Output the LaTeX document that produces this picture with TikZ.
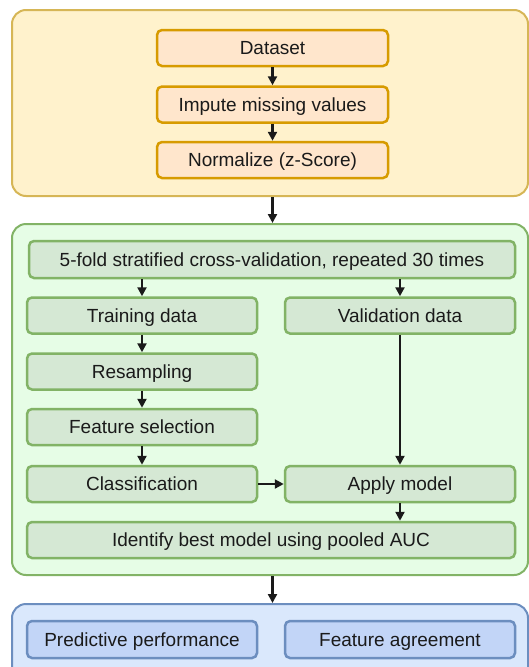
\documentclass[tikz,border=0pt]{standalone}
\usepackage{fontspec}
\setmainfont{Liberation Sans}
\usetikzlibrary{arrows.meta}
\definecolor{prepback}{HTML}{FFF2CC}
\definecolor{prepline}{HTML}{D6B656}
\definecolor{prepfill}{HTML}{FFE6CC}
\definecolor{prepedge}{HTML}{D79B00}
\definecolor{cvback}{HTML}{E6FDE6}
\definecolor{cvline}{HTML}{82B366}
\definecolor{cvfill}{HTML}{D5E8D4}
\definecolor{evalback}{HTML}{DAE8FC}
\definecolor{evalline}{HTML}{6C8EBF}
\definecolor{evalfill}{HTML}{C2D5F7}
\definecolor{ink}{HTML}{1A1A1A}

\begin{document}
\begin{tikzpicture}[x=1pt,y=-1pt,
    frame/.style={draw,line width=2pt,rounded corners=14pt,inner sep=0pt},
    stepbox/.style={draw,line width=2.5pt,rounded corners=5pt,inner sep=0pt,minimum height=36pt,text height=13.6pt,text depth=0pt,font=\fontsize{19}{23}\selectfont,text=ink},
    flow/.style={line width=2.5pt,ink,-{Triangle[length=9pt,width=9pt]}}]
    \clip (0,0) rectangle (529,667);
    % the three phases
    \node[frame,fill=prepback,draw=prepline,minimum width=516pt,minimum height=186pt] (prep) at (270,103) {};
    \node[frame,fill=cvback,draw=cvline,minimum width=516pt,minimum height=351pt] (cvframe) at (270,399.5) {};
    \node[frame,fill=evalback,draw=evalline,minimum width=516pt,minimum height=86pt] (evalframe) at (270,647) {};
    % preprocessing
    \foreach \n/\y/\t in {ds/48/Dataset,imp/104.5/Impute missing values,norm/160/Normalize (z-Score)}
      {\node[stepbox,fill=prepfill,draw=prepedge,minimum width=231pt] (\n) at (272.5,\y) {\t};}
    \draw[flow] (ds) -- (imp);
    \draw[flow] (imp) -- (norm);
    % cross-validation
    \node[stepbox,fill=cvfill,draw=cvline,minimum width=486pt,minimum height=37pt] (cvs) at (272,259.5) {5-fold stratified cross-validation, repeated 30 times};
    \foreach \n/\y/\t in {train/315.5/Training data,resamp/371.5/Resampling,featsel/427/Feature selection,classif/484/Classification}
      {\node[stepbox,fill=cvfill,draw=cvline,minimum width=230pt] (\n) at (142,\y) {\t};}
    \node[stepbox,fill=cvfill,draw=cvline,minimum width=230pt] (valid) at (400,315.5) {Validation data};
    \node[stepbox,fill=cvfill,draw=cvline,minimum width=230pt] (apply) at (400,484) {Apply model};
    \node[stepbox,fill=cvfill,draw=cvline,minimum width=488pt] (best) at (271,540) {Identify best model using pooled AUC};
    \draw[flow] (train.north |- cvs.south) -- (train);
    \draw[flow] (valid.north |- cvs.south) -- (valid);
    \draw[flow] (train) -- (resamp);
    \draw[flow] (resamp) -- (featsel);
    \draw[flow] (featsel) -- (classif);
    \draw[flow] (classif) -- (apply);
    \draw[flow] (valid) -- (apply);
    \draw[flow] (apply.south) -- (apply.south |- best.north);
    % evaluation
    \node[stepbox,fill=evalfill,draw=evalline,minimum width=230pt,minimum height=37pt] (perf) at (142,639.5) {Predictive performance};
    \node[stepbox,fill=evalfill,draw=evalline,minimum width=230pt,minimum height=37pt] (agree) at (400,639.5) {Feature agreement};
    \draw[flow] (ds.south |- prep.south) -- (ds.south |- cvframe.north);
    \draw[flow] (ds.south |- cvframe.south) -- (ds.south |- evalframe.north);
  \end{tikzpicture}
\end{document}
